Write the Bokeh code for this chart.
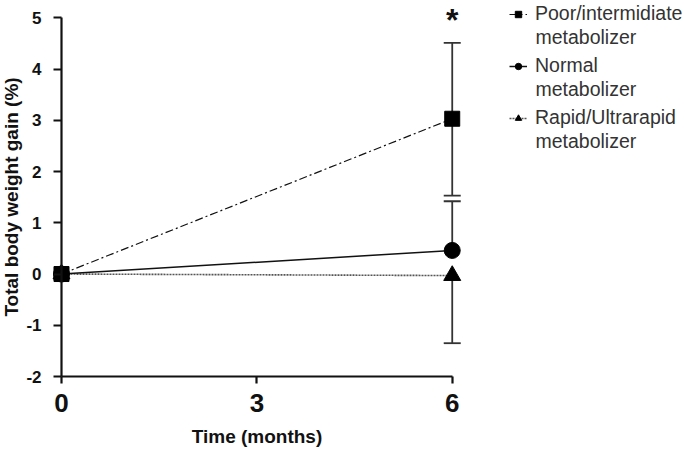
from bokeh.plotting import figure
from bokeh.models import (Range1d, FixedTicker, Whisker, TeeHead, ColumnDataSource,
                          Legend, LegendItem, Label)
from bokeh.embed import file_html
from bokeh.resources import INLINE

# ---- data ----
time = [0, 6]
poor = [0.0, 3.03]
poor_err_up = [0.0, 1.48]
poor_err_down = [0.0, 1.50]
normal = [0.0, 0.46]
normal_err_up = [0.0, 0.96]
rapid = [0.0, -0.03]
rapid_err_down = [0.0, 1.32]
series_first_line = ["Poor/intermidiate", "Normal", "Rapid/Ultrarapid"]
series_second_line = ["metabolizer", "metabolizer", "metabolizer"]
y_ticks = [-2, -1, 0, 1, 2, 3, 4, 5]
x_ticks = [0, 3, 6]

FONT = "Liberation Sans"
INK = "#111111"
LEG_INK = "#333333"

p = figure(frame_width=685, frame_height=450, output_backend="svg", toolbar_location=None,
           x_range=Range1d(-0.9367, 9.582), y_range=Range1d(-3.444, 5.3376),
           min_border_left=0, min_border_right=0, min_border_top=0, min_border_bottom=0)
p.outline_line_color = None
p.grid.visible = False
p.background_fill_color = "white"

# lines
l_rapid = p.line(time, rapid, line_color="#555555", line_width=1.6, line_dash="2 1")
l_norm = p.line(time, normal, line_color=INK, line_width=1.5)
l_poor = p.line(time, poor, line_color=INK, line_width=1.2, line_dash="8 3 2 3")

# error bars (only where there is a spread)
def whisk(base, lower, upper, up_head=True, low_head=True):
    src = ColumnDataSource(dict(base=[base], lower=[lower], upper=[upper]))
    w = Whisker(base="base", lower="lower", upper="upper", source=src, dimension="height",
                line_color="#333333", line_width=1.8,
                upper_head=TeeHead(size=17, line_color="#333333", line_width=1.8) if up_head else None,
                lower_head=TeeHead(size=17, line_color="#333333", line_width=1.8) if low_head else None)
    p.add_layout(w)

whisk(time[1], poor[1] - poor_err_down[1], poor[1] + poor_err_up[1])
whisk(time[1], normal[1], normal[1] + normal_err_up[1], up_head=True, low_head=False)
whisk(time[1], rapid[1] - rapid_err_down[1], rapid[1], up_head=False, low_head=True)

m_rapid = p.scatter(time, rapid, marker="triangle", size=17, fill_color="black", line_color="black")
m_norm = p.scatter(time, normal, marker="circle", size=16, fill_color="black", line_color="black")
m_poor = p.scatter(time, poor, marker="square", size=15, fill_color="black", line_color="black")

# asterisk (significance mark above the 6-month error bar)
p.add_layout(Label(x=6, y=5.318, text="*", text_align="center", text_baseline="top",
                   text_font=FONT, text_font_size="32px", text_font_style="bold", text_color=INK))

# axes
for ax in (p.xaxis[0], p.yaxis[0]):
    ax.axis_line_width = 2.2
    ax.axis_line_color = INK
    ax.major_tick_line_width = 2.2
    ax.major_tick_line_color = INK
    ax.major_tick_in = 0
    ax.minor_tick_line_color = None
    ax.major_label_text_font = FONT
    ax.major_label_text_font_style = "bold"
    ax.major_label_text_color = INK
    ax.axis_label_text_font = FONT
    ax.axis_label_text_font_style = "bold"
    ax.axis_label_text_color = INK
    ax.axis_label_text_font_size = "19px"

p.yaxis.ticker = FixedTicker(ticks=y_ticks)
p.yaxis.major_label_overrides = {t: str(t) for t in y_ticks}
p.yaxis.bounds = (-2, 5)
p.yaxis.fixed_location = 0
p.yaxis.major_tick_out = 8
p.yaxis.major_label_text_font_size = "17px"
p.yaxis.axis_label = "Total body weight gain (%)"
p.yaxis.axis_label_standoff = 1
p.yaxis.major_label_standoff = 12

p.xaxis.ticker = FixedTicker(ticks=x_ticks)
p.xaxis.bounds = (0, 6)
p.xaxis.fixed_location = -2
p.xaxis.major_tick_out = 7
p.xaxis.major_label_text_font_size = "26px"
p.xaxis.axis_label = "Time (months)"
p.xaxis.axis_label_standoff = 11
p.xaxis.major_label_standoff = 10

# legend: first line of each label with its marker, second line as a label below it
legend = Legend(items=[
    LegendItem(label=series_first_line[0], renderers=[l_poor, m_poor]),
    LegendItem(label=series_first_line[1], renderers=[l_norm, m_norm]),
    LegendItem(label=series_first_line[2], renderers=[l_rapid, m_rapid]),
], location=(509, 321), border_line_color=None, background_fill_alpha=0,
    label_text_font=FONT, label_text_font_size="19.5px", label_text_color=LEG_INK,
    label_text_line_height=1.1, glyph_width=18, glyph_height=16, label_standoff=8,
    spacing=29, padding=0, margin=0)
p.add_layout(legend, "center")

for txt, ys in zip(series_second_line, [414, 362, 310]):
    p.add_layout(Label(x=535, y=ys, x_units="screen", y_units="screen", text=txt,
                       text_align="left", text_baseline="middle", text_font=FONT,
                       text_font_size="19.5px", text_color=LEG_INK))

open("out.html", "w").write(file_html(p, INLINE))
